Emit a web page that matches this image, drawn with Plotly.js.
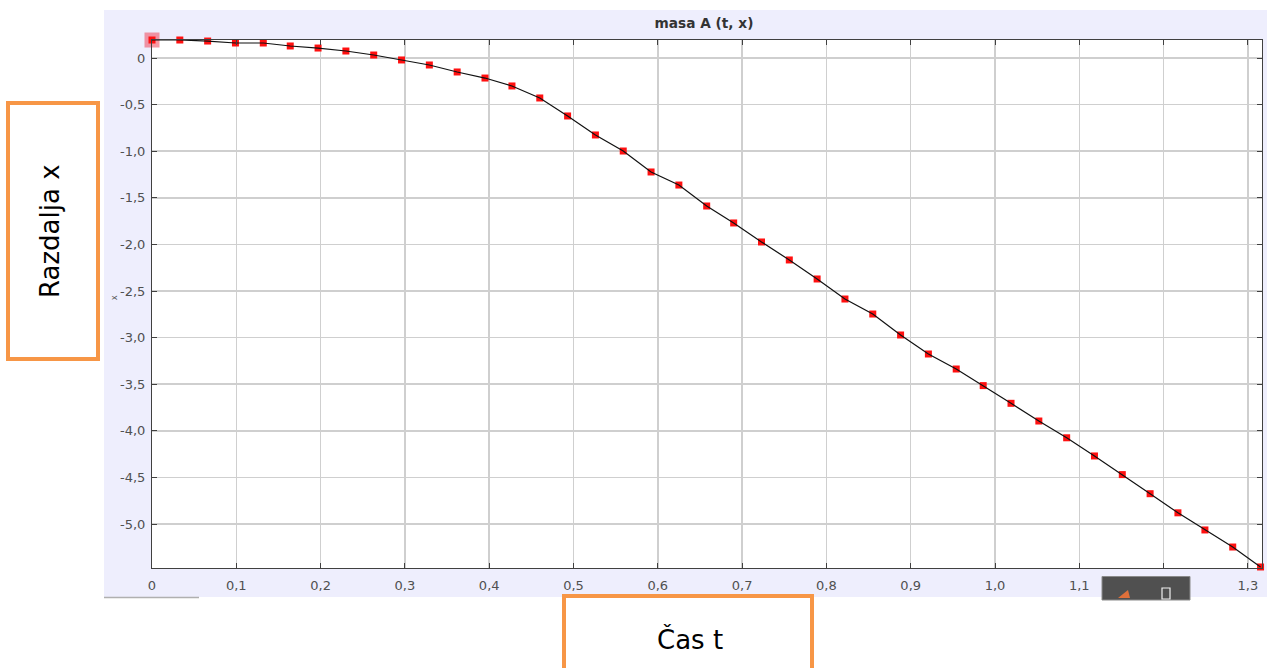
<!DOCTYPE html>
<html>
<head>
<meta charset="utf-8">
<script src="https://cdn.plot.ly/plotly-3.0.1.min.js"></script>
<style>
  html, body { margin: 0; padding: 0; background: #ffffff; }
  #chart { width: 1267px; height: 668px; }
</style>
</head>
<body>
<div id="chart"></div>
<script>
// ---- data ----
var timeT = [0, 0.033, 0.066, 0.099, 0.132, 0.164, 0.197, 0.230, 0.263, 0.296,
             0.329, 0.362, 0.395, 0.427, 0.460, 0.493, 0.526, 0.559, 0.592, 0.625,
             0.658, 0.690, 0.723, 0.756, 0.789, 0.822, 0.855, 0.888, 0.921, 0.954,
             0.986, 1.019, 1.052, 1.085, 1.118, 1.151, 1.184, 1.217, 1.249, 1.282, 1.315];
var distX = [0.193, 0.193, 0.182, 0.161, 0.161, 0.129, 0.107, 0.075, 0.032, -0.021,
             -0.075, -0.150, -0.215, -0.300, -0.429, -0.622, -0.826, -0.998, -1.223, -1.363,
             -1.588, -1.770, -1.974, -2.167, -2.371, -2.586, -2.747, -2.972, -3.176, -3.337,
             -3.515, -3.705, -3.895, -4.075, -4.270, -4.470, -4.675, -4.880, -5.064, -5.247, -5.461];

var xTickVals = [0, 0.1, 0.2, 0.3, 0.4, 0.5, 0.6, 0.7, 0.8, 0.9, 1.0, 1.1, 1.2, 1.3];
var xTickText = ["0", "0,1", "0,2", "0,3", "0,4", "0,5", "0,6", "0,7", "0,8", "0,9", "1,0", "1,1", "", "1,3"];
var yTickVals = [0, -0.5, -1.0, -1.5, -2.0, -2.5, -3.0, -3.5, -4.0, -4.5, -5.0];
var yTickText = ["0", "-0,5", "-1,0", "-1,5", "-2,0", "-2,5", "-3,0", "-3,5", "-4,0", "-4,5", "-5,0"];

var chartTitle = "masa A (t, x)";
var yAxisSmall = "x";
var leftBoxText = "Razdalja x";
var bottomBoxText = "Čas t";

// ---- layout helpers (pixel -> paper) ----
var W = 1267, H = 668, ML = 152, MR = 5, MT = 40, MB = 100;
var PW = W - ML - MR, PH = H - MT - MB;
var ZERO_Y = 58, PX_PER_X = 843, PX_PER_Y = 93.2;
function px(v) { return (v - ML) / PW; }
function py(v) { return (H - MB - v) / PH; }

var traces = [
  { // first-point highlight
    x: [timeT[0]], y: [distX[0]], mode: 'markers', type: 'scatter',
    marker: { symbol: 'square', size: 15, color: 'rgba(240,70,90,0.55)' },
    cliponaxis: false, hoverinfo: 'skip', showlegend: false
  },
  { // markers
    x: timeT, y: distX, mode: 'markers', type: 'scatter',
    marker: { symbol: 'square', size: 7, color: '#ff1010', line: { width: 0 } },
    cliponaxis: false, showlegend: false
  },
  { // line on top
    x: timeT, y: distX, mode: 'lines', type: 'scatter',
    line: { color: '#111111', width: 1.2 },
    cliponaxis: false, showlegend: false
  }
];

var orange = '#F79646';
var shapes = [
  // lavender panel
  { type: 'rect', xref: 'paper', yref: 'paper', x0: px(104), x1: px(1267), y0: py(597), y1: py(10),
    fillcolor: '#EEEEFD', line: { width: 0 }, layer: 'below' },
  // white plot area on top of panel
  { type: 'rect', xref: 'paper', yref: 'paper', x0: 0, x1: 1, y0: 0, y1: 1,
    fillcolor: '#ffffff', line: { width: 0 }, layer: 'below' },
  // small grey line bottom-left
  { type: 'line', xref: 'paper', yref: 'paper', x0: px(104), x1: px(199), y0: py(597.5), y1: py(597.5),
    line: { color: '#b0b0b0', width: 1.5 } },
  // dark toolbar box
  { type: 'rect', xref: 'paper', yref: 'paper', x0: px(1102), x1: px(1190), y0: py(600), y1: py(576.5),
    fillcolor: '#505050', line: { color: '#8a8a8a', width: 1 } },
  // speaker icon
  { type: 'path', xref: 'paper', yref: 'paper',
    path: 'M ' + px(1118) + ' ' + py(598) + ' L ' + px(1128) + ' ' + py(590) + ' L ' + px(1130) + ' ' + py(598) + ' Z',
    fillcolor: '#e0703a', line: { width: 0 } },
  // printer icon
  { type: 'rect', xref: 'paper', yref: 'paper', x0: px(1162), x1: px(1170), y0: py(599), y1: py(588),
    fillcolor: 'rgba(0,0,0,0)', line: { color: '#f0f0f0', width: 1.2 } },
  // left orange box
  { type: 'rect', xref: 'paper', yref: 'paper', x0: px(8), x1: px(98), y0: py(359), y1: py(103),
    fillcolor: '#ffffff', line: { color: orange, width: 4 } },
  // bottom orange box
  { type: 'rect', xref: 'paper', yref: 'paper', x0: px(564), x1: px(812), y0: py(690), y1: py(596),
    fillcolor: '#ffffff', line: { color: orange, width: 4 } }
];

var annotations = [
  { text: yAxisSmall, xref: 'paper', yref: 'paper', x: px(107), y: py(298), showarrow: false,
    textangle: -90, font: { family: 'Liberation Sans, Arial, sans-serif', size: 9, color: '#555555' } },
  { text: leftBoxText, xref: 'paper', yref: 'paper', x: px(50), y: py(231), showarrow: false,
    textangle: -90, xanchor: 'center', yanchor: 'middle',
    font: { family: 'DejaVu Sans, sans-serif', size: 26, color: '#000000' } },
  { text: bottomBoxText, xref: 'paper', yref: 'paper', x: px(689.5), y: py(639), showarrow: false,
    xanchor: 'center', yanchor: 'middle',
    font: { family: 'DejaVu Sans, sans-serif', size: 26, color: '#000000' } }
];

var axisCommon = {
  showline: true, linecolor: '#404040', linewidth: 1, mirror: 'ticks',
  ticks: 'inside', ticklen: 5, tickwidth: 1, tickcolor: '#404040',
  showgrid: true, gridcolor: '#cfcfcf', gridwidth: 1.5,
  zeroline: false, tickmode: 'array',
  tickfont: { family: 'DejaVu Sans, sans-serif', size: 13, color: '#505050' }
};

var layout = {
  width: W, height: H,
  margin: { l: ML, r: MR, t: MT, b: MB, pad: 0 },
  paper_bgcolor: '#ffffff', plot_bgcolor: '#ffffff',
  showlegend: false,
  title: { text: '<b>' + chartTitle + '</b>', x: px(704), xref: 'paper', xanchor: 'center',
           y: 1 - 23 / H, yref: 'container', yanchor: 'middle',
           font: { family: 'DejaVu Sans, sans-serif', size: 13.7, color: '#333333' } },
  xaxis: Object.assign({}, axisCommon, {
    range: [0, PW / PX_PER_X], tickvals: xTickVals, ticktext: xTickText, ticklabelstandoff: 5
  }),
  yaxis: Object.assign({}, axisCommon, {
    range: [-(H - MB - ZERO_Y) / PX_PER_Y, (ZERO_Y - MT) / PX_PER_Y], tickvals: yTickVals, ticktext: yTickText,
    ticklabelstandoff: 3
  }),
  shapes: shapes,
  annotations: annotations
};

Plotly.newPlot('chart', traces, layout, { displayModeBar: false, staticPlot: true });
</script>
</body>
</html>
